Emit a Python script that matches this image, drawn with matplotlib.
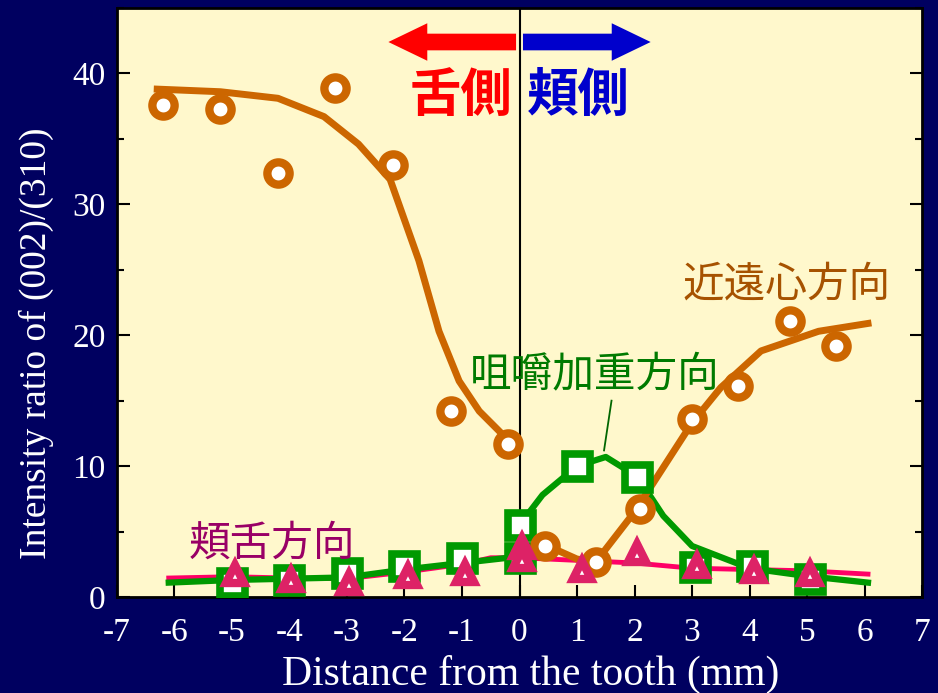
import matplotlib
matplotlib.use("Agg")
import matplotlib.pyplot as plt
import numpy as np

# data
circ_x = [-6.2, -5.2, -4.2, -3.2, -2.2, -1.2, -0.2, 0.44, 1.33, 2.1, 3.0, 3.8, 4.7, 5.5]
circ_y = [37.6, 37.3, 32.4, 38.9, 33.0, 14.2, 11.7, 3.9, 2.7, 6.7, 13.6, 16.1, 21.1, 19.2]
oline1_x = [-6.3, -5.2, -4.2, -3.4, -2.8, -2.25, -1.75, -1.4, -1.05, -0.7, -0.2]
oline1_y = [38.8, 38.6, 38.1, 36.7, 34.6, 31.9, 25.7, 20.3, 16.5, 14.2, 12.0]
oline2_x = [0.44, 1.0, 1.33, 2.0, 3.0, 3.5, 4.2, 5.2, 6.06]
oline2_y = [4.0, 2.9, 2.7, 6.5, 13.3, 16.0, 18.8, 20.3, 20.9]

sq_x = [-5.0, -4.0, -3.0, -2.0, -1.0, 0.0, 0.0, 1.0, 2.05, 3.05, 4.05, 5.05]
sq_y = [1.1, 1.3, 1.8, 2.4, 3.0, 3.0, 5.5, 10.0, 9.2, 2.3, 2.4, 1.4]
gline1_x = [-6.1, -5.0, -4.0, -3.0, -2.0, -1.0, 0.0]
gline1_y = [1.1, 1.3, 1.4, 1.5, 2.1, 2.6, 3.1]
gline2_x = [0.0, 0.4, 1.0, 1.5, 2.05, 2.5, 3.0, 4.0, 5.0, 6.06]
gline2_y = [5.5, 7.8, 10.0, 10.7, 9.2, 6.2, 3.9, 2.2, 1.6, 1.1]

tri_x = [-4.95, -3.97, -2.97, -1.94, -0.95, 0.05, 0.05, 1.09, 2.05, 3.08, 4.08, 5.05]
tri_y = [1.75, 1.3, 1.07, 1.6, 1.8, 3.8, 2.9, 2.1, 3.4, 2.4, 2.0, 1.75]
pline_x = [-6.1, -5.0, -4.0, -3.0, -2.0, -1.0, -0.5, 0.0, 1.0, 2.0, 3.0, 4.0, 5.0, 6.06]
pline_y = [1.45, 1.55, 1.45, 1.4, 1.9, 2.5, 3.0, 3.0, 2.8, 2.6, 2.2, 2.1, 2.0, 1.75]

xticks = list(range(-7, 8))
yticks = [0, 10, 20, 30, 40]

navy = "#000060"
cream = "#fff8cc"
orange = "#cc6600"
green = "#009900"
pink = "#ff0066"
tri_c = "#dd2266"

plt.rcParams['font.family'] = ['Liberation Serif', 'DejaVu Serif']
cjk = ['Noto Sans CJK JP', 'DejaVu Sans']

fig = plt.figure(figsize=(9.38, 6.93), dpi=100, facecolor=navy)
ax = fig.add_axes([0.1247, 0.1385, 0.8583, 0.85])
ax.set_facecolor(cream)

ax.axvline(0, color="black", lw=1.5, zorder=1)

ax.plot(pline_x, pline_y, color=pink, lw=3.5, zorder=2)
ax.plot(gline1_x, gline1_y, color=green, lw=4.5, zorder=2)
ax.plot(gline2_x, gline2_y, color=green, lw=4.5, zorder=2)
ax.plot(oline1_x, oline1_y, color=orange, lw=5, zorder=2)
ax.plot(oline2_x, oline2_y, color=orange, lw=5, zorder=2)

ax.plot(sq_x, sq_y, ls="none", marker="s", ms=18, mfc="white", mec=green, mew=5.5, zorder=3)
ax.plot(circ_x, circ_y, ls="none", marker="o", ms=16, mfc="white", mec=orange, mew=6, zorder=4)
ax.plot(tri_x, tri_y, ls="none", marker="^", ms=13, mfc="white", mec=tri_c, mew=6, zorder=5)

# arrows and side labels
arrow_style = "simple,head_length=1.4,head_width=1.35,tail_width=0.6"
ax.annotate("", xy=(-2.28, 42.4), xytext=(-0.06, 42.4),
            arrowprops=dict(arrowstyle=arrow_style, mutation_scale=20,
                            color="#ff0000", lw=0, shrinkA=0, shrinkB=0), zorder=6)
ax.annotate("", xy=(2.28, 42.4), xytext=(0.06, 42.4),
            arrowprops=dict(arrowstyle=arrow_style, mutation_scale=20,
                            color="#0000cc", lw=0, shrinkA=0, shrinkB=0), zorder=6)
ax.text(-0.12, 38.3, "舌側", color="#ff0000", fontsize=37, fontweight="bold",
        family=cjk, ha="right", va="center")
ax.text(0.12, 38.3, "頬側", color="#0000cc", fontsize=37, fontweight="bold",
        family=cjk, ha="left", va="center")

ax.text(6.45, 23.8, "近遠心方向", color="#a65200", fontsize=30, family=cjk,
        ha="right", va="center")
ax.text(1.3, 16.9, "咀嚼加重方向", color="#007a00", fontsize=30, family=cjk,
        ha="center", va="center")
ax.plot([1.47, 1.6], [11.2, 15.0], color="#006600", lw=1.3, zorder=2)
ax.text(-5.75, 4.0, "頬舌方向", color="#990066", fontsize=30, family=cjk,
        ha="left", va="center")

ax.set_xlim(-7, 7)
ax.set_ylim(0, 45)
ax.set_xticks(xticks)
ax.set_xticklabels([str(v) for v in xticks])
ax.set_yticks(yticks)
ax.set_yticks([5, 15, 25, 35, 45], minor=True)
ax.tick_params(axis="both", which="major", direction="in", length=9, width=1.5,
               colors="black", labelcolor="white", labelsize=24)
ax.tick_params(axis="y", which="both", right=True)
ax.tick_params(axis="y", which="minor", direction="in", length=5, width=1.5)
ax.tick_params(axis="x", pad=15)
ax.tick_params(axis="y", pad=8)
for s in ax.spines.values():
    s.set_linewidth(2)
    s.set_color("black")

ax.set_xlabel("Distance from the tooth (mm)", color="white", fontsize=30)
ax.xaxis.set_label_coords(0.514, -0.098)
ax.set_ylabel("Intensity ratio of (002)/(310)", color="white", fontsize=27)
ax.yaxis.set_label_coords(-0.078, 0.43)

fig.savefig("out.png", dpi=100, facecolor=navy)
